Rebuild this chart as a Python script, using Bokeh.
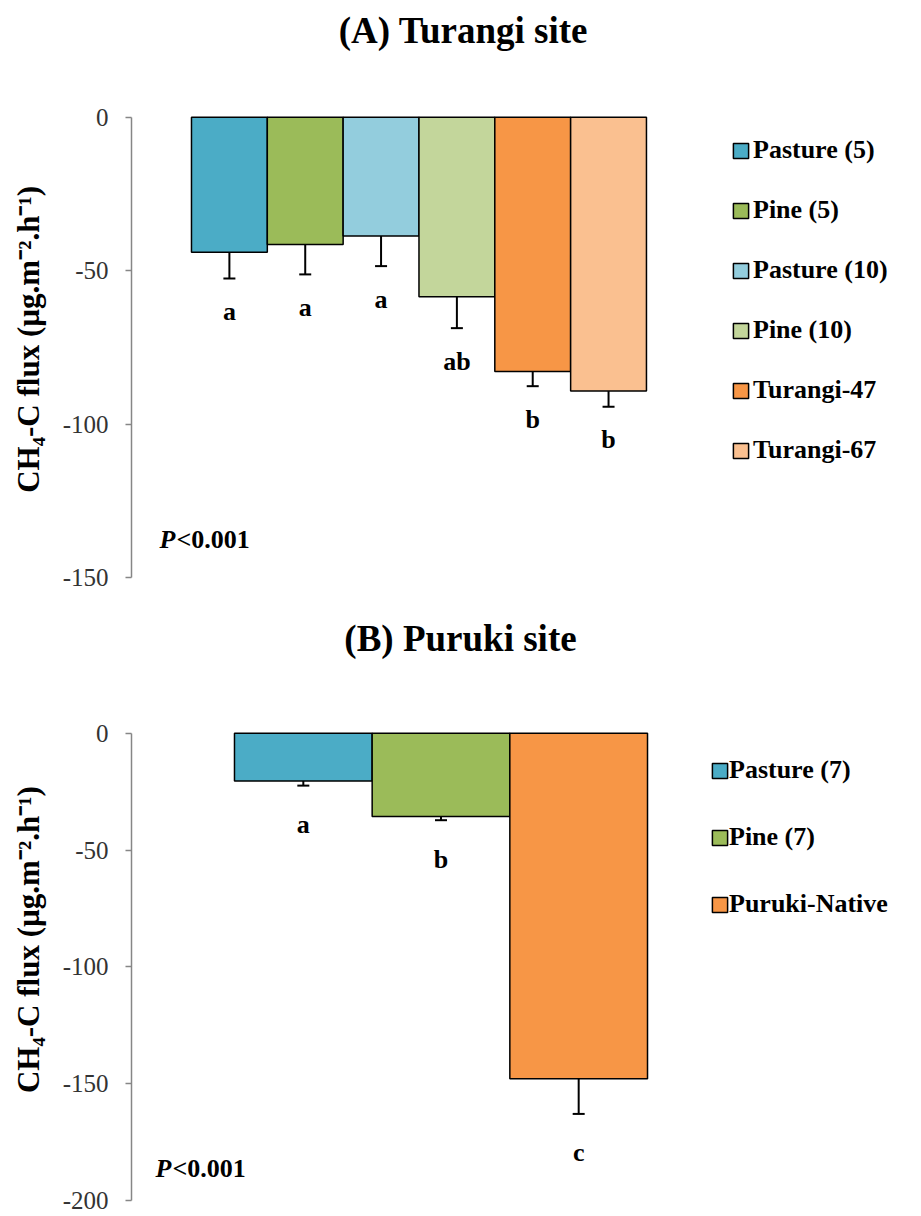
from bokeh.plotting import figure
from bokeh.models import (ColumnDataSource, Range1d, FixedTicker, Whisker, TeeHead,
                          Label, Legend, LegendItem)
from bokeh.layouts import column
from bokeh.embed import file_html
from bokeh.resources import INLINE
from bokeh.core.properties import value

FONT = "Liberation Serif"

# ---- Panel A: Turangi site ----
turangi_categories = ["Pasture (5)", "Pine (5)", "Pasture (10)", "Pine (10)", "Turangi-47", "Turangi-67"]
turangi_means = [-44.0, -41.5, -38.7, -58.5, -82.8, -89.2]
turangi_se = [8.5, 9.7, 9.8, 10.2, 4.8, 5.1]
turangi_letters = ["a", "a", "a", "ab", "b", "b"]
turangi_colors = ["#4bacc6", "#9bbb59", "#93cddd", "#c3d69b", "#f79646", "#fac090"]
turangi_ticks = [0, -50, -100, -150]
turangi_tick_labels = ["0", "-50", "-100", "-150"]

# ---- Panel B: Puruki site ----
puruki_categories = ["Pasture (7)", "Pine (7)", "Puruki-Native"]
puruki_means = [-20.4, -35.6, -147.8]
puruki_se = [2.0, 1.6, 15.1]
puruki_letters = ["a", "b", "c"]
puruki_colors = ["#4bacc6", "#9bbb59", "#f79646"]
puruki_ticks = [0, -50, -100, -150, -200]
puruki_tick_labels = ["0", "-50", "-100", "-150", "-200"]

Y_LABEL = "CH\u2084-C flux (\u00b5g.m\u207b\u00b2.h\u207b\u00b9)"
P_TEXT = "<0.001"
NBSP = "\u00a0"


def make_panel(title, cats, means, se, letters, colors, ticks, tick_labels, xr, yr,
               title_xy, p_xy, ylabel_pad, legend_xy, legend_spacing, legend_standoff,
               letter_offset):
    n = len(cats)
    xs = list(range(n))
    lower = [m - s for m, s in zip(means, se)]
    src = ColumnDataSource(dict(x=xs, mean=means, lower=lower, letter=letters,
                                color=colors, cat=cats))
    p = figure(width=921, height=608, output_backend="svg", toolbar_location=None,
               x_range=Range1d(*xr), y_range=Range1d(*yr), x_axis_location=None,
               min_border_left=131, min_border_right=0, min_border_top=0,
               min_border_bottom=0)
    p.outline_line_color = None
    p.xgrid.visible = False
    p.ygrid.visible = False
    p.background_fill_color = "white"
    p.border_fill_color = "white"

    bars = p.vbar(x="x", width=1, top=0, bottom="mean", source=src,
                  fill_color="color", line_color="black", line_width=1.5)

    whisk = Whisker(base="x", upper="mean", lower="lower", source=src,
                    dimension="height", line_color="black", line_width=2,
                    upper_head=None,
                    lower_head=TeeHead(size=12, line_color="black", line_width=2))
    p.add_layout(whisk)

    p.text(x="x", y="lower", text="letter", source=src, text_font=value(FONT),
           text_font_style="bold", text_font_size="26px", text_color="black",
           text_align="center", text_baseline="middle", y_offset=letter_offset)

    ax = p.yaxis[0]
    ax.ticker = FixedTicker(ticks=ticks)
    ax.major_label_overrides = {t: s for t, s in zip(ticks, tick_labels)}
    ax.bounds = (min(ticks), max(ticks))
    ax.axis_line_color = "#868686"
    ax.axis_line_width = 1.5
    ax.major_tick_line_color = "#868686"
    ax.major_tick_line_width = 1.5
    ax.major_tick_in = 0
    ax.major_tick_out = 6
    ax.minor_tick_line_color = None
    ax.major_label_text_font = FONT
    ax.major_label_text_font_size = "25px"
    ax.major_label_text_color = "#333333"
    ax.major_label_standoff = 17
    # trailing no-break spaces shift the centred label down along the axis
    ax.axis_label = Y_LABEL + NBSP * ylabel_pad
    ax.axis_label_text_font = FONT
    ax.axis_label_text_font_size = "31px"
    ax.axis_label_text_font_style = "bold"
    ax.axis_label_text_color = "black"
    ax.axis_label_standoff = 14

    p.add_layout(Label(x=title_xy[0], y=title_xy[1], x_units="screen", y_units="screen",
                       text=title, text_font=FONT, text_font_size="37px",
                       text_font_style="bold", text_color="black",
                       text_align="center", text_baseline="middle"))
    p.add_layout(Label(x=p_xy[0], y=p_xy[1], x_units="screen", y_units="screen",
                       text="P", text_font=FONT, text_font_size="26px",
                       text_font_style="bold italic", text_color="black",
                       text_align="left", text_baseline="middle"))
    p.add_layout(Label(x=p_xy[0] + 17, y=p_xy[1], x_units="screen", y_units="screen",
                       text=P_TEXT, text_font=FONT, text_font_size="26px",
                       text_font_style="bold", text_color="black",
                       text_align="left", text_baseline="middle"))

    items = [LegendItem(label=c, renderers=[bars], index=i) for i, c in enumerate(cats)]
    legend = Legend(items=items, location=legend_xy, orientation="vertical",
                    border_line_color=None, background_fill_alpha=0,
                    label_text_font=FONT, label_text_font_style="bold",
                    label_text_font_size="26px", label_text_color="black",
                    label_text_baseline="alphabetic",
                    glyph_width=19, glyph_height=19, label_height=30,
                    spacing=legend_spacing, padding=0, margin=0,
                    label_standoff=legend_standoff)
    p.add_layout(legend)
    return p


pA = make_panel("(A) Turangi site", turangi_categories, turangi_means, turangi_se,
                turangi_letters, turangi_colors, turangi_ticks, turangi_tick_labels,
                xr=(-1.291, 9.127), yr=(-160.0, 38.0),
                title_xy=(332, 578), p_xy=(28, 69), ylabel_pad=9,
                legend_xy=(600, 143), legend_spacing=30, legend_standoff=3,
                letter_offset=33)

pB = make_panel("(B) Puruki site", puruki_categories, puruki_means, puruki_se,
                puruki_letters, puruki_colors, puruki_ticks, puruki_tick_labels,
                xr=(-1.248, 4.490), yr=(-206.8, 53.4),
                title_xy=(329, 578), p_xy=(24, 48), ylabel_pad=7,
                legend_xy=(579, 297), legend_spacing=37, legend_standoff=0,
                letter_offset=39)

layout = column(pA, pB, spacing=0)
open("out.html", "w").write(file_html(layout, INLINE))
